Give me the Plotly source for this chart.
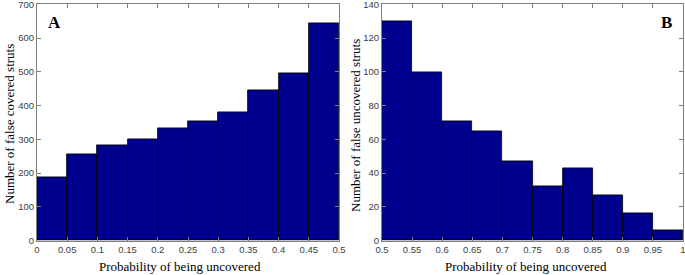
import plotly.graph_objects as go

# Data
edges_a = [0, 0.05, 0.1, 0.15, 0.2, 0.25, 0.3, 0.35, 0.4, 0.45, 0.5]
counts_a = [188, 255, 283, 299, 333, 353, 379, 445, 495, 643]
edges_b = [0.5, 0.55, 0.6, 0.65, 0.7, 0.75, 0.8, 0.85, 0.9, 0.95, 1.0]
counts_b = [130, 100, 71, 65, 47, 32, 43, 27, 16, 6]
xticks_a = [0, 0.05, 0.1, 0.15, 0.2, 0.25, 0.3, 0.35, 0.4, 0.45, 0.5]
xticklabels_a = ["0", "0.05", "0.1", "0.15", "0.2", "0.25", "0.3", "0.35", "0.4", "0.45", "0.5"]
xticks_b = [0.5, 0.55, 0.6, 0.65, 0.7, 0.75, 0.8, 0.85, 0.9, 0.95, 1.0]
xticklabels_b = ["0.5", "0.55", "0.6", "0.65", "0.7", "0.75", "0.8", "0.85", "0.9", "0.95", "1"]
yticks_a = [0, 100, 200, 300, 400, 500, 600, 700]
yticks_b = [0, 20, 40, 60, 80, 100, 120, 140]

W, H = 685, 275
BAR = "#00008F"

def centers(e):
    return [(e[i] + e[i + 1]) / 2 for i in range(len(e) - 1)]

def widths(e):
    return [e[i + 1] - e[i] for i in range(len(e) - 1)]

fig = go.Figure()
fig.add_trace(go.Bar(x=centers(edges_a), y=counts_a, width=widths(edges_a),
                     marker=dict(color=BAR, line=dict(color="#000000", width=0.8)),
                     xaxis="x", yaxis="y", showlegend=False))
fig.add_trace(go.Bar(x=centers(edges_b), y=counts_b, width=widths(edges_b),
                     marker=dict(color=BAR, line=dict(color="#000000", width=0.8)),
                     xaxis="x2", yaxis="y2", showlegend=False))

ydom = [(H - 240.7) / H, (H - 4.3) / H]
tickfont = dict(family="Liberation Sans, Arial", size=9.5, color="#404040")
SERIF = "Liberation Serif, Times New Roman"
titlefont = dict(family=SERIF, size=13, color="#000000")

common = dict(showline=True, linecolor="#7f7f7f", linewidth=1, mirror="ticks",
              ticks="inside", ticklen=4, tickcolor="#7f7f7f", showgrid=False,
              zeroline=False, tickfont=tickfont, automargin=False,
              ticklabeloverflow="allow")

def ann(text, x, y, font, angle=0):
    return dict(text=text, x=x / W, y=(H - y) / H, xref="paper", yref="paper",
                showarrow=False, font=font, textangle=angle,
                xanchor="center", yanchor="middle")

fig.update_layout(
    width=W, height=H,
    margin=dict(l=0, r=0, t=0, b=0),
    paper_bgcolor="white", plot_bgcolor="white",
    bargap=0,
    xaxis=dict(domain=[37 / W, 339 / W], range=[0, 0.5], tickvals=xticks_a,
               ticktext=xticklabels_a, anchor="y", **common),
    yaxis=dict(domain=ydom, range=[0, 700], tickvals=yticks_a, anchor="x", **common),
    xaxis2=dict(domain=[382 / W, 683 / W], range=[0.5, 1.0], tickvals=xticks_b,
                ticktext=xticklabels_b, anchor="y2", **common),
    yaxis2=dict(domain=ydom, range=[0, 140], tickvals=yticks_b, anchor="x2", **common),
    annotations=[
        ann("Probability of being uncovered", 180, 266, titlefont),
        ann("Probability of being uncovered", 526, 266, titlefont),
        ann("Number of false covered struts", 9, 124, titlefont, -90),
        ann("Number of false uncovered struts", 356, 126, titlefont, -90),
        ann("<b>A</b>", 54, 23, dict(family=SERIF, size=17, color="#000")),
        ann("<b>B</b>", 666, 23, dict(family=SERIF, size=17, color="#000")),
    ],
)

fig.write_html("out.html", config={"displayModeBar": False},
               post_script="document.body.style.margin='0';document.body.style.overflow='hidden';")
